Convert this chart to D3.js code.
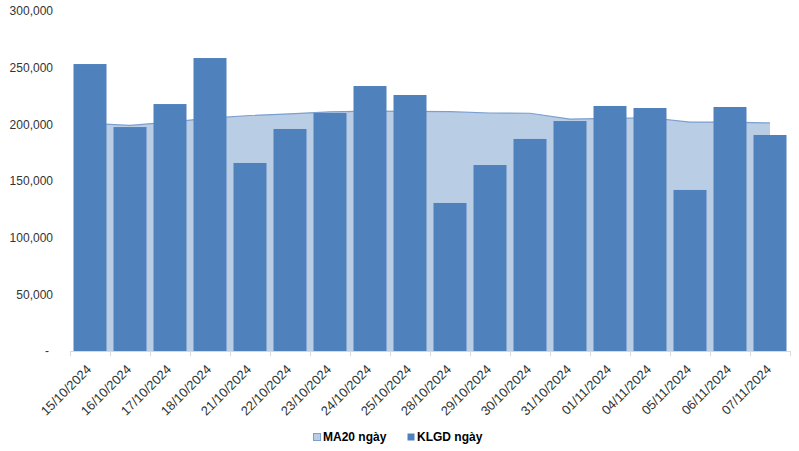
<!DOCTYPE html>
<html>
<head>
<meta charset="utf-8">
<script src="https://cdn.jsdelivr.net/npm/d3@7"></script>
<style>
  html, body { margin: 0; padding: 0; background: #fff; }
  svg { display: block; }
</style>
</head>
<body>
<svg id="chart" width="799" height="451"></svg>
<script>
const categories = ["15/10/2024","16/10/2024","17/10/2024","18/10/2024","21/10/2024","22/10/2024","23/10/2024","24/10/2024","25/10/2024","28/10/2024","29/10/2024","30/10/2024","31/10/2024","01/11/2024","04/11/2024","05/11/2024","06/11/2024","07/11/2024"];
const klgd = [253200, 197600, 217900, 258500, 165900, 195900, 210000, 233800, 225900, 130600, 164100, 187100, 202900, 216200, 214400, 142100, 215300, 190600];
const ma20 = [200800, 199000, 202000, 205500, 207800, 209300, 211000, 211600, 211500, 211200, 210000, 209800, 204600, 205300, 205800, 202000, 202000, 201200];
const yTicks = [0, 50000, 100000, 150000, 200000, 250000, 300000];
const seriesNames = ["MA20 ngày", "KLGD ngày"];

const svg = d3.select("#chart");
const x = d3.scaleBand().domain(categories).range([70, 790]).paddingInner(0.175).paddingOuter(0.0875);
const y = d3.scaleLinear().domain([0, 300000]).range([351, 11]);
const fontFamily = "Arial, 'Liberation Sans', sans-serif";

// Y axis labels
svg.append("g").selectAll("text").data(yTicks).join("text")
  .attr("x", d => d === 0 ? 49 : 53)
  .attr("y", d => y(d))
  .attr("dy", "0.35em")
  .attr("text-anchor", "end")
  .attr("font-family", fontFamily)
  .attr("font-size", 12)
  .attr("fill", "#333")
  .text(d => d === 0 ? "-" : d3.format(",")(d));

// MA20 area
const cx = d => x(d) + x.bandwidth() / 2;
const area = d3.area()
  .x((d, i) => cx(categories[i]))
  .y0(y(0))
  .y1(d => y(d));
const line = d3.line()
  .x((d, i) => cx(categories[i]))
  .y(d => y(d));
svg.append("path").datum(ma20).attr("d", area).attr("fill", "#b9cde5");
svg.append("path").datum(ma20).attr("d", line).attr("fill", "none").attr("stroke", "#7b9fd0").attr("stroke-width", 1.2);

// Bars
svg.append("g").selectAll("rect").data(klgd).join("rect")
  .attr("x", (d, i) => x(categories[i]))
  .attr("y", d => y(d))
  .attr("width", x.bandwidth())
  .attr("height", d => y(0) - y(d))
  .attr("fill", "#4f81bd");

// X axis line and ticks
const axisG = svg.append("g");
axisG.append("line").attr("x1", 70).attr("x2", 790).attr("y1", y(0) + 0.5).attr("y2", y(0) + 0.5)
  .attr("stroke", "#d9d9d9").attr("stroke-width", 1);
const tickPos = categories.map(c => x(c) - x.step() * x.paddingInner() / 2).concat([790]);
axisG.selectAll("line.tick").data(tickPos).join("line").attr("class", "tick")
  .attr("x1", d => Math.round(d) + 0.5).attr("x2", d => Math.round(d) + 0.5)
  .attr("y1", y(0)).attr("y2", y(0) + 5)
  .attr("stroke", "#d9d9d9");

// X labels
svg.append("g").selectAll("text").data(categories).join("text")
  .attr("transform", d => `translate(${cx(d) - 1},${y(0) + 16}) rotate(-45)`)
  .attr("text-anchor", "end")
  .attr("dy", "0.35em")
  .attr("font-family", fontFamily)
  .attr("font-size", 13)
  .attr("fill", "#333")
  .text(d => d);

// Legend
const legend = svg.append("g");
const legendItems = [
  {name: seriesNames[0], color: "#b9cde5", stroke: "#7b9fd0", x: 313},
  {name: seriesNames[1], color: "#4f81bd", stroke: "none", x: 407}
];
legendItems.forEach(it => {
  legend.append("rect").attr("x", it.x + 0.5).attr("y", 433.5).attr("width", 7).attr("height", 7)
    .attr("fill", it.color).attr("stroke", it.stroke);
  legend.append("text").attr("x", it.x + 10).attr("y", 437).attr("dy", "0.35em")
    .attr("font-family", fontFamily).attr("font-size", 12).attr("font-weight", "bold")
    .attr("fill", "#000").text(it.name);
});
</script>
</body>
</html>
